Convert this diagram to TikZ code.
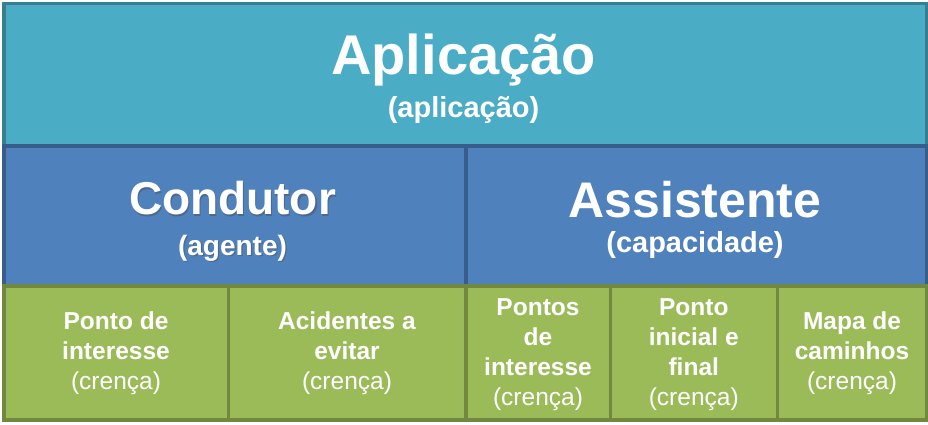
\documentclass[tikz,border=0pt]{standalone}
\usepackage{fontspec}
\setmainfont{Liberation Sans}
\definecolor{tealfill}{HTML}{4BACC6}
\definecolor{tealline}{HTML}{357F91}
\definecolor{bluefill}{HTML}{4F81BD}
\definecolor{blueline}{HTML}{385D8A}
\definecolor{greenfill}{HTML}{9BBB59}
\definecolor{greenline}{HTML}{71893F}
\tikzset{
  cell/.style={draw, line width=3.5pt, inner sep=0pt, anchor=north west},
  appbox/.style={cell, fill=tealfill, draw=tealline},
  agbox/.style={cell, fill=bluefill, draw=blueline},
  blbox/.style={cell, fill=greenfill, draw=greenline},
  bigtxt/.style={text=white, font=\fontsize{56}{64}\selectfont\bfseries, inner sep=0pt},
  midtxt/.style={text=white, font=\fontsize{50}{58}\selectfont\bfseries, inner sep=0pt},
  subtxt/.style={text=white, font=\fontsize{29}{34}\selectfont\bfseries, inner sep=0pt},
  celltxt/.style={text=white, align=center, inner sep=0pt, font=\fontsize{24.5}{30}\selectfont},
  glow/.style={text=black!70, opacity=0.45},
}
\newcommand{\bel}{\textbf}
\begin{document}
\begin{tikzpicture}[x=1pt,y=-1pt]
\useasboundingbox (0,0) rectangle (928,425);
\fill[white] (0,0) rectangle (928,425);
% top
\node[appbox, minimum width=923pt, minimum height=142pt] (app) at (2,2) {};
% agents
\node[agbox, minimum width=462pt, minimum height=140pt] (cond) at (2,144) {};
\node[agbox, minimum width=461pt, minimum height=140pt] (assist) at (464,144) {};
% beliefs
\node[blbox, minimum width=224.5pt, minimum height=134pt] (b1) at (2,284) {};
\node[blbox, minimum width=237.5pt, minimum height=134pt] (b2) at (226.5,284) {};
\node[blbox, minimum width=144.5pt, minimum height=134pt] (b3) at (464,284) {};
\node[blbox, minimum width=167pt, minimum height=134pt] (b4) at (608.5,284) {};
\node[blbox, minimum width=149.5pt, minimum height=134pt] (b5) at (775.5,284) {};
% texts
\node[bigtxt] (tapp) at (463.5,60) {Aplicação};
\node[subtxt] (tapp2) at (463.5,110) {(aplicação)};
\node[midtxt, font=\fontsize{46}{54}\selectfont\bfseries, glow] at (233.8,200) {Condutor};
\node[midtxt, font=\fontsize{46}{54}\selectfont\bfseries] (tcond) at (232.5,198.5) {Condutor};
\node[subtxt, font=\fontsize{28}{34}\selectfont\bfseries, glow] at (233.8,249.5) {(agente)};
\node[subtxt, font=\fontsize{28}{34}\selectfont\bfseries] (tcond2) at (232.5,248) {(agente)};
\node[midtxt] (tass) at (695,200) {Assistente};
\node[subtxt] (tass2) at (695,245) {(capacidade)};
\node[celltxt] (t1) at (b1.center) {\bel{Ponto de}\\\bel{interesse}\\(crença)};
\node[celltxt] (t2) at (b2.center) {\bel{Acidentes a}\\\bel{evitar}\\(crença)};
\node[celltxt] (t3) at ([yshift=-2pt]b3.center) {\bel{Pontos}\\\bel{de}\\\bel{interesse}\\(crença)};
\node[celltxt] (t4) at ([yshift=-2pt]b4.center) {\bel{Ponto}\\\bel{inicial e}\\\bel{final}\\(crença)};
\node[celltxt] (t5) at (b5.center) {\bel{Mapa de}\\\bel{caminhos}\\(crença)};
\end{tikzpicture}
\end{document}
